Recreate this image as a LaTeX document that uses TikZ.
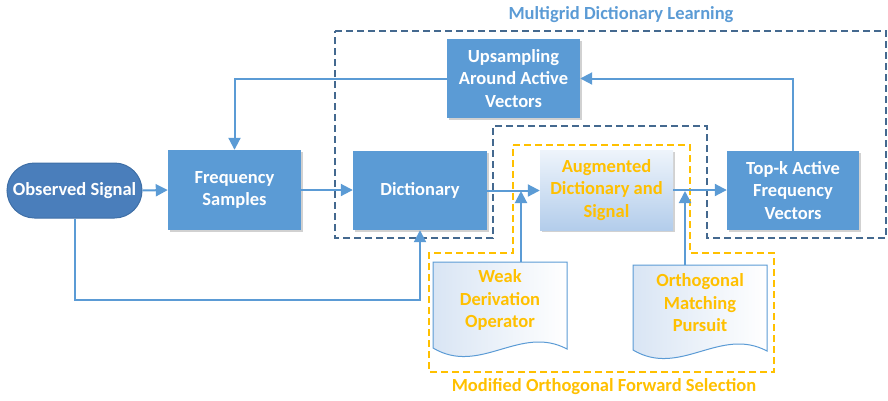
\documentclass[tikz,border=0pt]{standalone}
\usepackage{fontspec}
\setmainfont{Carlito}
\usetikzlibrary{arrows.meta,shapes.misc,shadows}
\definecolor{boxblue}{HTML}{5B9BD5}
\definecolor{pillblue}{HTML}{4A7EBB}
\definecolor{pillborder}{HTML}{3F6FA6}
\definecolor{dashblue}{HTML}{44698F}
\definecolor{gold}{HTML}{FFC000}
\definecolor{linkblue}{HTML}{5B9BD5}
\definecolor{auglight}{HTML}{EEF4FB}
\definecolor{augdark}{HTML}{B3CDEB}
\definecolor{doclight}{HTML}{D9E5F4}
\begin{document}
\begin{tikzpicture}[x=1pt,y=-1pt,
  every node/.style={font=\bfseries\fontsize{18.5}{22.5}\selectfont, align=center, inner sep=0pt},
  softshadow/.style={drop shadow={shadow xshift=2pt, shadow yshift=-2pt, opacity=0.18, fill=black}},
  block/.style={rectangle, fill=boxblue, text=white, minimum width=133pt, minimum height=80pt, softshadow},
  augblock/.style={rectangle, top color=auglight, bottom color=augdark, text=gold, minimum width=133pt, minimum height=80pt, softshadow},
  pill/.style={rounded rectangle, fill=pillblue, draw=pillborder, line width=1pt, text=white, minimum width=135pt, minimum height=55pt},
  doctext/.style={rectangle, text=gold, minimum width=134pt, minimum height=76pt},
  docshape/.style={draw=linkblue, line width=1pt, left color=doclight, right color=white},
  link/.style={draw=linkblue, line width=2pt, -{Triangle[length=12pt,width=12pt]}},
  groupdash/.style={draw=dashblue, line width=2pt, dash pattern=on 7pt off 4pt},
  golddash/.style={draw=gold, line width=2pt, dash pattern=on 7pt off 4pt},
  grouptitle/.style={text=linkblue},
  goldtitle/.style={text=gold}
]
\useasboundingbox (0,0) rectangle (888,400);

% group outlines
\draw[groupdash] (335,31) -- (886,31) -- (886,238) -- (707,238) -- (707,126) -- (493,126) -- (493,238) -- (335,238) -- cycle;
\draw[golddash] (513,145) -- (690,145) -- (690,253) -- (774,253) -- (774,372) -- (429,372) -- (429,253) -- (513,253) -- cycle;

% document shapes
\shade[docshape] (433,262) -- (567,262) -- (567,349) .. controls (520,324) and (480,376) .. (433,348) -- cycle;
\shade[docshape] (633,265) -- (767,265) -- (767,351) .. controls (720,326) and (680,378) .. (633,350) -- cycle;

% nodes
\node[pill] (obs) at (74.5,190.5) {Observed Signal};
\node[block] (fs) at (234.5,190) {Frequency\\Samples};
\node[block, minimum width=134pt, minimum height=79pt] (dict) at (420,190.5) {Dictionary};
\node[block, minimum height=79pt] (up) at (513.5,78.5) {Upsampling\\Around Active\\Vectors};
\node[augblock] (aug) at (606.5,190) {Augmented\\Dictionary and\\Signal};
\node[block, minimum width=132pt, minimum height=79pt] (topk) at (793,190.5) {Top-k Active\\Frequency\\Vectors};
\node[doctext] (weak) at (500,300) {Weak\\Derivation\\Operator};
\node[doctext] (orth) at (700,303) {Orthogonal\\Matching\\Pursuit};

\node[grouptitle] (mdl) at (621,15) {Multigrid Dictionary Learning};
\node[goldtitle] (mofs) at (604,387) {Modified Orthogonal Forward Selection};

% junction points
\coordinate (jl) at (521,191);
\coordinate (jr) at (685,191);
\coordinate (lowrow) at (0,300);

% connectors
\draw[link] (obs.east) -- (fs.west);
\draw[link] (fs.east) -- (fs.east -| dict.west);
\draw[link] (dict.east) -- (dict.east -| aug.west);
\draw[link] (aug.east) -- (aug.east -| topk.west);
\draw[link] (topk.north) |- (up.east);
\draw[link] (up.west) -| (fs.north);
\draw[link] (obs.south) |- (lowrow -| dict.south) -- (dict.south);
\draw[link] (weak.north -| jl) -- (jl);
\draw[link] (orth.north -| jr) -- (jr);
\end{tikzpicture}
\end{document}
